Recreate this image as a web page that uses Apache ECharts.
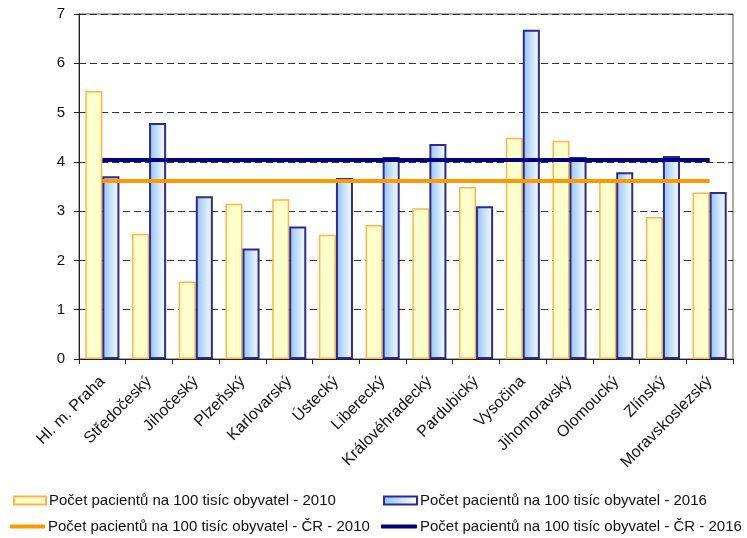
<!DOCTYPE html>
<html>
<head>
<meta charset="utf-8">
<script src="https://cdn.jsdelivr.net/npm/echarts@6/dist/echarts.min.js"></script>
<style>
  html, body { margin: 0; padding: 0; background: #fff; }
  #chart { width: 747px; height: 538px; }
</style>
</head>
<body>
<div id="chart"></div>
<script>
// Regions of the Czech Republic
const regions = [
  'Hl. m. Praha', 'Středočeský', 'Jihočeský', 'Plzeňský', 'Karlovarský',
  'Ústecký', 'Liberecký', 'Královéhradecký', 'Pardubický', 'Vysočina',
  'Jihomoravský', 'Olomoucký', 'Zlínský', 'Moravskoslezský'
];

// Patients per 100 thousand inhabitants
const patients2010 = [5.44, 2.54, 1.57, 3.15, 3.24, 2.52, 2.72, 3.06, 3.49, 4.49, 4.43, 3.61, 2.88, 3.38];
const patients2016 = [3.71, 4.79, 3.30, 2.24, 2.69, 3.67, 4.10, 4.36, 3.10, 6.68, 4.10, 3.79, 4.12, 3.39];

// National averages (ČR)
const national2010 = 3.61;
const national2016 = 4.04;

const yTicks = [0, 1, 2, 3, 4, 5, 6, 7];

const names = [
  'Počet pacientů na 100 tisíc obyvatel - 2010',
  'Počet pacientů na 100 tisíc obyvatel - 2016',
  'Počet pacientů na 100 tisíc obyvatel - ČR - 2010',
  'Počet pacientů na 100 tisíc obyvatel - ČR - 2016'
];

const FONT = '"Liberation Sans", Arial, sans-serif';

const blueGradient = new echarts.graphic.LinearGradient(0, 0, 1, 0, [
  { offset: 0, color: '#8FC2F7' },
  { offset: 1, color: '#FFFFFF' }
]);

// One legend block per entry, laid out as a 2x2 table under the plot
function legendAt(left, top, item, w, h) {
  return {
    left: left, top: top, orient: 'horizontal',
    itemWidth: w, itemHeight: h, itemGap: 0, padding: 0,
    textStyle: { fontFamily: FONT, fontSize: 15, color: '#111', padding: [0, 0, 0, -2] },
    selectedMode: false,
    data: [item]
  };
}

const chart = echarts.init(document.getElementById('chart'), null, { renderer: 'canvas' });

chart.setOption({
  animation: false,
  backgroundColor: '#fff',
  grid: {
    left: 79, right: 14, top: 14, bottom: 179,
    show: true, borderColor: '#555', borderWidth: 1
  },
  legend: [
    legendAt(13, 493, { name: names[0], icon: 'rect' }, 32, 8),
    legendAt(383, 493, { name: names[1], icon: 'rect' }, 33, 8),
    legendAt(10, 519, { name: names[2], icon: 'roundRect', itemStyle: { color: '#FF9900', borderWidth: 0 } }, 35, 4),
    legendAt(381, 519, { name: names[3], icon: 'roundRect', itemStyle: { color: '#000080', borderWidth: 0 } }, 36, 4)
  ],
  xAxis: {
    type: 'category',
    data: regions,
    boundaryGap: true,
    axisLine: { lineStyle: { color: '#222', width: 1 } },
    axisTick: { show: true, length: 5, lineStyle: { color: '#222' } },
    axisLabel: {
      rotate: 45, interval: 0, margin: 20,
      fontFamily: FONT, fontSize: 16, color: '#111'
    },
    splitLine: { show: false }
  },
  yAxis: {
    type: 'value',
    min: yTicks[0], max: yTicks[yTicks.length - 1], interval: 1,
    axisLine: { show: true, lineStyle: { color: '#222', width: 1 } },
    axisTick: { show: true, length: 5, lineStyle: { color: '#222' } },
    axisLabel: { fontFamily: FONT, fontSize: 15, color: '#111', margin: 14 },
    splitLine: { show: true, lineStyle: { color: '#333', type: [7, 4], width: 1 } }
  },
  series: [
    {
      name: names[0],
      type: 'bar',
      data: patients2010,
      barGap: '0%',
      barCategoryGap: '27%',
      itemStyle: { color: '#FFFFCC', borderColor: '#FFB547', borderWidth: 1.5 },
      z: 2
    },
    {
      name: names[1],
      type: 'bar',
      data: patients2016,
      barGap: '0%',
      barCategoryGap: '27%',
      itemStyle: { color: blueGradient, borderColor: '#2B2B96', borderWidth: 2 },
      z: 2
    },
    {
      name: names[2],
      type: 'line',
      data: regions.map(() => national2010),
      showSymbol: false,
      symbol: 'none',
      lineStyle: { color: '#FF9900', width: 4 },
      itemStyle: { color: '#FF9900' },
      z: 5
    },
    {
      name: names[3],
      type: 'line',
      data: regions.map(() => national2016),
      showSymbol: false,
      symbol: 'none',
      lineStyle: { color: '#000080', width: 4 },
      itemStyle: { color: '#000080' },
      z: 5
    }
  ]
});
</script>
</body>
</html>
